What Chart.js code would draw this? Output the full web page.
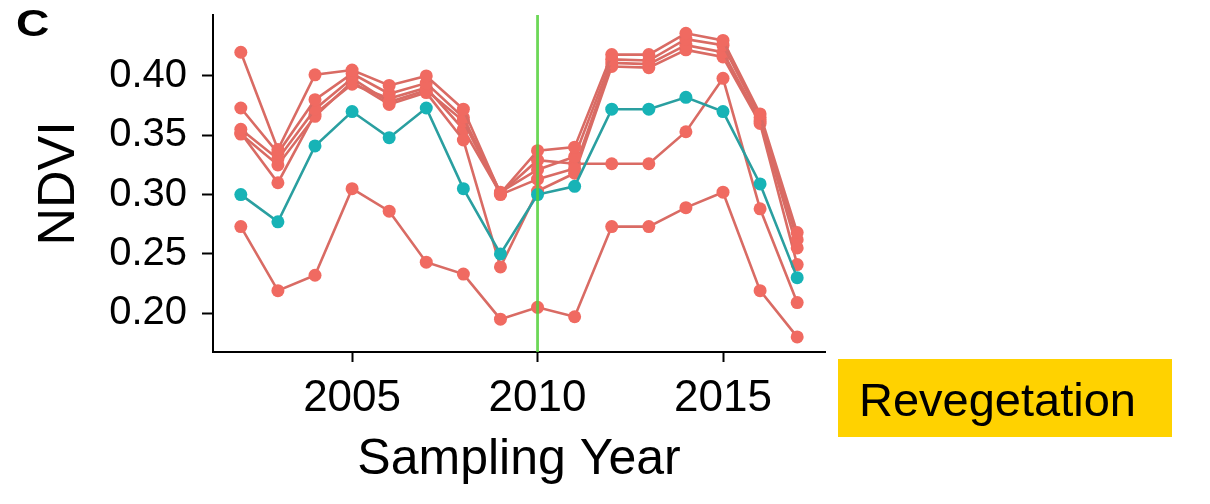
<!DOCTYPE html>
<html>
<head>
<meta charset="utf-8">
<script src="https://cdn.jsdelivr.net/npm/chart.js@4.4.1/dist/chart.umd.min.js"></script>
<style>
html,body{margin:0;padding:0;background:#fff;}
#wrap{position:relative;width:1210px;height:504px;overflow:hidden;background:#fff;}
#c{position:absolute;left:0;top:0;}
#panel{position:absolute;left:16px;top:5px;font-family:"Liberation Sans",Arial,sans-serif;font-weight:bold;font-size:37px;line-height:37px;color:#000;transform:scaleX(1.25);transform-origin:0 0;}
#reveg{position:absolute;left:838px;top:359px;width:334px;height:78px;background:#FFD200;}
#reveg span{position:absolute;left:21px;top:0;font-family:"Liberation Sans",Arial,sans-serif;font-size:47px;line-height:82px;color:#000;white-space:nowrap;}
</style>
</head>
<body>
<div id="wrap">
<canvas id="c" width="1210" height="504"></canvas>
<div id="panel">C</div>
<div id="reveg"><span>Revegetation</span></div>
</div>
<script>
// ---- data ----
const years = [2002,2003,2004,2005,2006,2007,2008,2009,2010,2011,2012,2013,2014,2015,2016,2017];
const siteA = [0.420,0.338,0.401,0.405,0.392,0.400,0.372,0.301,0.337,0.340,0.418,0.418,0.436,0.430,0.368,0.268];
const siteB = [0.373,0.335,0.380,0.402,0.385,0.394,0.365,0.302,0.321,0.332,0.414,0.413,0.431,0.426,0.365,0.262];
const siteC = [0.355,0.330,0.372,0.398,0.378,0.388,0.362,0.300,0.313,0.322,0.411,0.410,0.426,0.420,0.362,0.255];
const siteD = [0.351,0.325,0.366,0.395,0.376,0.386,0.346,0.239,0.303,0.318,0.408,0.407,0.422,0.416,0.360,0.241];
const siteM = [0.352,0.310,0.368,0.393,0.381,0.390,0.355,0.301,0.329,0.326,0.326,0.326,0.353,0.398,0.288,0.209];
const siteLow = [0.273,0.219,0.232,0.305,0.286,0.243,0.233,0.195,0.205,0.197,0.273,0.273,0.289,0.302,0.219,0.180];
const siteCyan = [0.300,0.277,0.341,0.370,0.348,0.373,0.305,0.250,0.300,0.307,0.372,0.372,0.382,0.370,0.309,0.230];
const xTickValues = [2005,2010,2015];
const yTickValues = [0.20,0.25,0.30,0.35,0.40];
const markerYear = 2010;
const xMin = 2001.25, xMax = 2017.75;
const yMin = 0.1673, yMax = 0.4514;

// ---- styles ----
const RED_PT = '#F06A61', RED_LN = '#D96B64';
const CY_PT = '#17B3B6', CY_LN = '#2A9FA0';
const toXY = arr => arr.map((v,i)=>({x:years[i], y:v}));
function series(arr, line, pt){
  return {data:toXY(arr), borderColor:line, backgroundColor:pt, pointBackgroundColor:pt,
    pointBorderColor:pt, borderWidth:2.6, pointRadius:6.5, pointBorderWidth:0, tension:0};
}
const datasets = [
  {data:[{x:markerYear,y:yMin},{x:markerYear,y:yMax}], borderColor:'rgba(82,208,58,0.85)', borderWidth:2.8, pointRadius:0},
  series(siteCyan, CY_LN, CY_PT),
  series(siteA, RED_LN, RED_PT),
  series(siteB, RED_LN, RED_PT),
  series(siteC, RED_LN, RED_PT),
  series(siteD, RED_LN, RED_PT),
  series(siteM, RED_LN, RED_PT),
  series(siteLow, RED_LN, RED_PT)
];
const FONT = '"Liberation Sans", Arial, sans-serif';
new Chart(document.getElementById('c'), {
  type:'line',
  data:{datasets},
  options:{
    responsive:false, animation:false, devicePixelRatio:1,
    layout:{padding:{left:0, top:15, right:385, bottom:0}},
    plugins:{legend:{display:false}, tooltip:{enabled:false}},
    scales:{
      x:{type:'linear', min:xMin, max:xMax,
        afterBuildTicks:s=>{s.ticks = xTickValues.map(v=>({value:v}));},
        afterFit:s=>{s.height = 152; s.paddingLeft = 0; s.paddingRight = 0;},
        grid:{drawOnChartArea:false, drawTicks:true, tickLength:10, tickColor:'#000', tickWidth:2},
        border:{display:true, color:'#000', width:2},
        ticks:{color:'#000', font:{family:FONT, size:44}, padding:10, maxRotation:0, autoSkip:false,
          callback:v=>String(v)},
        title:{display:true, text:'Sampling Year', color:'#000', font:{family:FONT, size:50}, padding:{top:0,bottom:14}}
      },
      y:{type:'linear', min:yMin, max:yMax,
        afterBuildTicks:s=>{s.ticks = yTickValues.map(v=>({value:v}));},
        afterFit:s=>{s.width = 213; s.paddingTop = 0; s.paddingBottom = 0;},
        grid:{drawOnChartArea:false, drawTicks:true, tickLength:11, tickColor:'#000', tickWidth:2},
        border:{display:true, color:'#000', width:2},
        ticks:{color:'#000', font:{family:FONT, size:40}, padding:15, autoSkip:false,
          callback:v=>Number(v).toFixed(2)},
        title:{display:true, text:'NDVI', color:'#000', font:{family:FONT, size:52}, padding:{top:28,bottom:0}}
      }
    }
  }
});
</script>
</body>
</html>
